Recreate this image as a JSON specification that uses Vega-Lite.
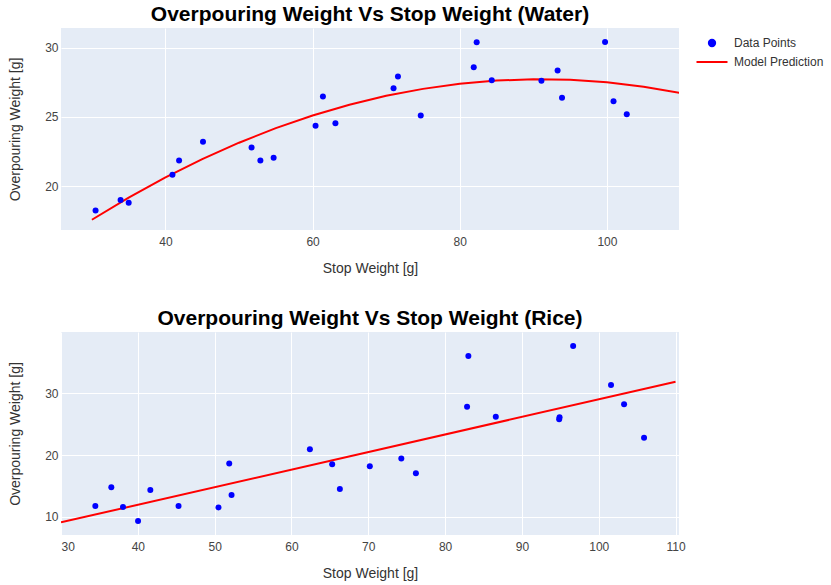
{
  "$schema": "https://vega.github.io/schema/vega-lite/v6.json",
  "description": "Overpouring weight vs stop weight for water and rice, measured points and model prediction.",
  "padding": {"left": 8, "top": 4, "right": 0, "bottom": 5},
  "background": "white",
  "config": {
    "font": "Liberation Sans",
    "view": {"fill": "#E5ECF6", "stroke": null},
    "title": {"fontSize": 21, "fontWeight": "bold", "color": "#000000", "anchor": "middle", "offset": 3},
    "axis": {
      "domain": false,
      "ticks": false,
      "gridColor": "#FFFFFF",
      "gridWidth": 1,
      "labelColor": "#444444",
      "labelFontSize": 12,
      "titleColor": "#333333",
      "titleFontSize": 14,
      "titleFontWeight": "normal"
    },
    "axisX": {"labelPadding": 6, "titlePadding": 14},
    "axisY": {"labelPadding": 3, "titlePadding": 22},
    "legend": {"labelFontSize": 12, "labelColor": "#333333"}
  },
  "datasets": {
    "water_points": [
      {"stop": 30.5, "over": 18.23, "series": "Data Points"},
      {"stop": 33.9, "over": 18.98, "series": "Data Points"},
      {"stop": 35.0, "over": 18.79, "series": "Data Points"},
      {"stop": 40.95, "over": 20.81, "series": "Data Points"},
      {"stop": 41.85, "over": 21.84, "series": "Data Points"},
      {"stop": 45.1, "over": 23.19, "series": "Data Points"},
      {"stop": 51.7, "over": 22.78, "series": "Data Points"},
      {"stop": 52.9, "over": 21.84, "series": "Data Points"},
      {"stop": 54.7, "over": 22.04, "series": "Data Points"},
      {"stop": 60.4, "over": 24.35, "series": "Data Points"},
      {"stop": 61.4, "over": 26.46, "series": "Data Points"},
      {"stop": 63.1, "over": 24.54, "series": "Data Points"},
      {"stop": 71.0, "over": 27.07, "series": "Data Points"},
      {"stop": 71.6, "over": 27.91, "series": "Data Points"},
      {"stop": 74.7, "over": 25.09, "series": "Data Points"},
      {"stop": 81.9, "over": 28.58, "series": "Data Points"},
      {"stop": 82.3, "over": 30.39, "series": "Data Points"},
      {"stop": 84.35, "over": 27.65, "series": "Data Points"},
      {"stop": 91.1, "over": 27.6, "series": "Data Points"},
      {"stop": 93.3, "over": 28.34, "series": "Data Points"},
      {"stop": 93.9, "over": 26.37, "series": "Data Points"},
      {"stop": 99.75, "over": 30.41, "series": "Data Points"},
      {"stop": 100.9, "over": 26.13, "series": "Data Points"},
      {"stop": 102.7, "over": 25.19, "series": "Data Points"}
    ],
    "water_model": [
      {"stop": 30, "over": 17.56, "series": "Model Prediction"},
      {"stop": 35, "over": 19.16, "series": "Model Prediction"},
      {"stop": 40, "over": 20.62, "series": "Model Prediction"},
      {"stop": 45, "over": 21.94, "series": "Model Prediction"},
      {"stop": 50, "over": 23.13, "series": "Model Prediction"},
      {"stop": 55, "over": 24.18, "series": "Model Prediction"},
      {"stop": 60, "over": 25.1, "series": "Model Prediction"},
      {"stop": 65, "over": 25.87, "series": "Model Prediction"},
      {"stop": 70, "over": 26.52, "series": "Model Prediction"},
      {"stop": 75, "over": 27.02, "series": "Model Prediction"},
      {"stop": 80, "over": 27.39, "series": "Model Prediction"},
      {"stop": 85, "over": 27.62, "series": "Model Prediction"},
      {"stop": 90, "over": 27.72, "series": "Model Prediction"},
      {"stop": 95, "over": 27.68, "series": "Model Prediction"},
      {"stop": 100, "over": 27.5, "series": "Model Prediction"},
      {"stop": 105, "over": 27.18, "series": "Model Prediction"},
      {"stop": 110, "over": 26.73, "series": "Model Prediction"}
    ],
    "rice_points": [
      {"stop": 34.47, "over": 11.78},
      {"stop": 36.55, "over": 14.79},
      {"stop": 38.07, "over": 11.62},
      {"stop": 40.03, "over": 9.35},
      {"stop": 41.63, "over": 14.37},
      {"stop": 45.3, "over": 11.78},
      {"stop": 50.5, "over": 11.55},
      {"stop": 51.9, "over": 18.62},
      {"stop": 52.2, "over": 13.56},
      {"stop": 62.4, "over": 20.94},
      {"stop": 65.3, "over": 18.51},
      {"stop": 66.3, "over": 14.53},
      {"stop": 70.2, "over": 18.19},
      {"stop": 74.3, "over": 19.43},
      {"stop": 76.2, "over": 17.06},
      {"stop": 82.86, "over": 27.8},
      {"stop": 83.03, "over": 35.99},
      {"stop": 86.6, "over": 26.18},
      {"stop": 94.9, "over": 26.1},
      {"stop": 94.85, "over": 25.8},
      {"stop": 96.67, "over": 37.6},
      {"stop": 101.6, "over": 31.3},
      {"stop": 103.3, "over": 28.22},
      {"stop": 105.9, "over": 22.78}
    ],
    "rice_model": [
      {"stop": 30, "over": 9.13},
      {"stop": 110, "over": 31.84}
    ]
  },
  "vconcat": [
    {
      "title": "Overpouring Weight Vs Stop Weight (Water)",
      "width": 618,
      "height": 202,
      "encoding": {
        "x": {
          "field": "stop",
          "type": "quantitative",
          "title": "Stop Weight [g]",
          "scale": {"domain": [25.8, 109.8], "nice": false, "zero": false},
          "axis": {"values": [40, 60, 80, 100]}
        },
        "y": {
          "field": "over",
          "type": "quantitative",
          "title": "Overpouring Weight [g]",
          "scale": {"domain": [16.82, 31.42], "nice": false, "zero": false},
          "axis": {"values": [20, 25, 30]}
        },
        "color": {
          "field": "series",
          "type": "nominal",
          "scale": {"domain": ["Data Points", "Model Prediction"], "range": ["#0000FF", "#FF0000"]},
          "legend": {
            "title": null,
            "symbolSize": 400,
            "rowPadding": 0,
            "padding": 4,
            "offset": 11,
            "labelOffset": 11,
            "encode": {
              "symbols": {
                "update": {
                  "shape": {"signal": "datum.value === 'Data Points' ? 'circle' : 'M-1.55,0H1.55'"},
                  "fill": {"signal": "datum.value === 'Data Points' ? '#0000FF' : 'transparent'"},
                  "stroke": {"signal": "datum.value === 'Data Points' ? 'transparent' : '#FF0000'"},
                  "strokeWidth": {"value": 2},
                  "size": {"signal": "datum.value === 'Data Points' ? 40 : 400"},
                  "opacity": {"value": 1}
                }
              }
            }
          }
        }
      },
      "layer": [
        {
          "data": {"name": "water_model"},
          "mark": {"type": "line", "strokeWidth": 2, "clip": true}
        },
        {
          "data": {"name": "water_points"},
          "mark": {"type": "point", "filled": true, "size": 36, "opacity": 1}
        }
      ]
    },
    {
      "title": "Overpouring Weight Vs Stop Weight (Rice)",
      "width": 618,
      "height": 203,
      "encoding": {
        "x": {
          "field": "stop",
          "type": "quantitative",
          "title": "Stop Weight [g]",
          "scale": {"domain": [30, 110.45], "nice": false, "zero": false},
          "axis": {"values": [30, 40, 50, 60, 70, 80, 90, 100, 110]}
        },
        "y": {
          "field": "over",
          "type": "quantitative",
          "title": "Overpouring Weight [g]",
          "scale": {"domain": [7.09, 39.87], "nice": false, "zero": false},
          "axis": {"values": [10, 20, 30]}
        }
      },
      "layer": [
        {
          "data": {"name": "rice_model"},
          "mark": {"type": "line", "color": "#FF0000", "strokeWidth": 2, "clip": true}
        },
        {
          "data": {"name": "rice_points"},
          "mark": {"type": "point", "filled": true, "size": 36, "opacity": 1, "color": "#0000FF"}
        }
      ]
    }
  ],
  "spacing": 33
}
